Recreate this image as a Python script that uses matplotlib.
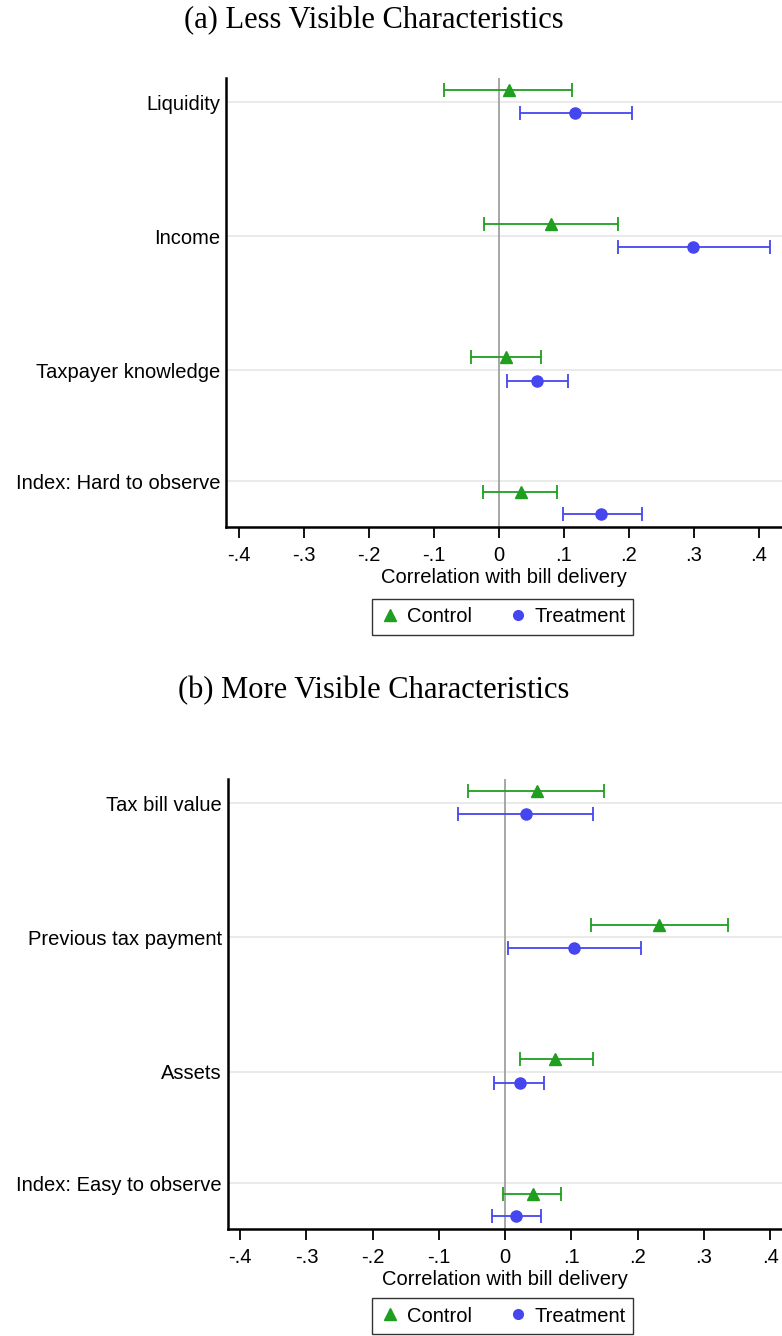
import numpy as np
import matplotlib.pyplot as plt
from matplotlib.lines import Line2D

# panel (a): less visible characteristics
labels_a = ['Liquidity', 'Income', 'Taxpayer knowledge', 'Index: Hard to observe']
ctrl_a = [0.015, 0.080, 0.011, 0.034]
ctrl_a_lo = [-0.085, -0.023, -0.043, -0.024]
ctrl_a_hi = [0.112, 0.183, 0.065, 0.090]
treat_a = [0.118, 0.299, 0.059, 0.158]
treat_a_lo = [0.033, 0.183, 0.012, 0.099]
treat_a_hi = [0.205, 0.418, 0.107, 0.220]

# panel (b): more visible characteristics
labels_b = ['Tax bill value', 'Previous tax payment', 'Assets', 'Index: Easy to observe']
ctrl_b = [0.048, 0.233, 0.076, 0.042]
ctrl_b_lo = [-0.056, 0.129, 0.023, -0.003]
ctrl_b_hi = [0.150, 0.337, 0.132, 0.085]
treat_b = [0.031, 0.104, 0.022, 0.017]
treat_b_lo = [-0.071, 0.005, -0.017, -0.020]
treat_b_hi = [0.132, 0.205, 0.059, 0.054]

# row layout (index row label sits a bit above its estimates)
label_pos = [1.0, 2.0, 3.0, 3.83]
ctrl_pos = [0.91, 1.91, 2.905, 3.91]
treat_pos = [1.082, 2.082, 3.082, 4.075]

GREEN = '#1f9e1f'
BLUE = '#4646f0'
SANS = 'Liberation Sans'
FS = 14.5
xticks = [-0.4, -0.3, -0.2, -0.1, 0, 0.1, 0.2, 0.3, 0.4]
xticklabels = ['-.4', '-.3', '-.2', '-.1', '0', '.1', '.2', '.3', '.4']

fig = plt.figure(figsize=(7.82, 13.36), dpi=100)


def panel(rect, title, title_y, labels, c, clo, chi, t, tlo, thi, xlim, leg_y):
    ax = fig.add_axes(rect)
    for y in label_pos:
        ax.axhline(y, color='#e6e6e6', lw=1.2, zorder=0)
    ax.axvline(0, color='#a0a0a0', lw=1.3, zorder=1)

    c = np.array(c)
    t = np.array(t)
    ax.errorbar(c, ctrl_pos, xerr=[c - np.array(clo), np.array(chi) - c],
                fmt='^', color=GREEN, ms=8, lw=1.3, capsize=5, capthick=1.3, zorder=3)
    ax.errorbar(t, treat_pos, xerr=[t - np.array(tlo), np.array(thi) - t],
                fmt='o', color=BLUE, ms=8, lw=1.3, capsize=5, capthick=1.3, zorder=3)

    ax.set_xlim(*xlim)
    ax.set_ylim(4.172, 0.821)
    ax.set_yticks(label_pos)
    ax.set_yticklabels(labels, fontsize=FS, fontfamily=SANS)
    ax.tick_params(axis='y', length=0, pad=4)
    ax.set_xticks(xticks)
    ax.set_xticklabels(xticklabels, fontsize=FS, fontfamily=SANS)
    ax.tick_params(axis='x', length=8, width=1.3, pad=6)
    ax.set_xlabel('Correlation with bill delivery', fontsize=FS, fontfamily=SANS,
                  labelpad=1.5)
    for s in ['top', 'right']:
        ax.spines[s].set_visible(False)
    for s in ['left', 'bottom']:
        ax.spines[s].set_linewidth(1.8)

    fig.text(0.478, title_y, title, ha='center', va='center',
             fontsize=22, fontfamily='Liberation Serif')

    handles = [
        Line2D([], [], marker='^', ls='none', color=GREEN, ms=8, label='Control'),
        Line2D([], [], marker='o', ls='none', color=BLUE, ms=7, label='Treatment'),
    ]
    fig.legend(handles=handles, loc='center', bbox_to_anchor=(0.643, leg_y), ncol=2,
               frameon=True, fancybox=False, edgecolor='black',
               prop={'family': SANS, 'size': FS},
               handletextpad=0.3, columnspacing=1.8, borderpad=0.4, handlelength=1.0)
    return ax


panel([0.289, 0.6055, 0.711, 0.3361], '(a) Less Visible Characteristics', 1 - 21 / 1336,
      labels_a, ctrl_a, ctrl_a_lo, ctrl_a_hi, treat_a, treat_a_lo, treat_a_hi,
      (-0.42, 0.436), 1 - 617 / 1336)
panel([0.291, 0.0801, 0.709, 0.3368], '(b) More Visible Characteristics', 1 - 691 / 1336,
      labels_b, ctrl_b, ctrl_b_lo, ctrl_b_hi, treat_b, treat_b_lo, treat_b_hi,
      (-0.419, 0.418), 1 - 1316 / 1336)

fig.savefig('out.png', dpi=100)
